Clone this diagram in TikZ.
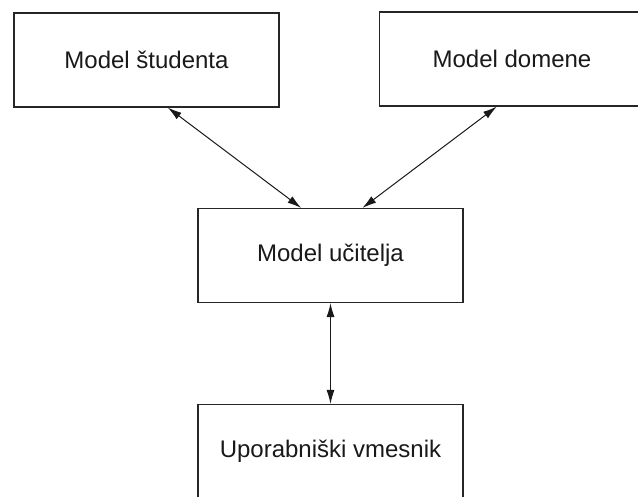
\documentclass[tikz,border=0pt]{standalone}
\usepackage{fontspec}
\setmainfont{Liberation Sans}
\usetikzlibrary{arrows.meta,calc}
\begin{document}
\begin{tikzpicture}[x=1pt,y=-1pt,
  box/.style={draw=black!85,line width=1.1pt,fill=white,minimum width=265pt,minimum height=94pt,inner sep=0pt,
    font=\fontsize{24}{28}\selectfont,text=black!90},
  link/.style={{Latex[length=14pt,width=8pt]}-{Latex[length=14pt,width=8pt]},line width=1pt,draw=black!90}]
\useasboundingbox (0,0) rectangle (638,496);
\clip (0,0) rectangle (638,496);
\fill[white] (0,0) rectangle (638,496);
\node[box] (s) at (146.5,60) {Model študenta};
\node[box] (d) at (512,59) {Model domene};
\node[box] (u) at (330.5,255.5) {Model učitelja};
\node[box] (v) at (330.5,451.5) {Uporabniški vmesnik};
\coordinate (s1) at ($(s.south west)!0.58!(s.south east)$);
\coordinate (u1) at ($(u.north west)!0.39!(u.north east)$);
\coordinate (d1) at ($(d.south west)!0.443!(d.south east)$);
\coordinate (u2) at ($(u.north west)!0.62!(u.north east)$);
\draw[link] (s1) -- (u1);
\draw[link] (d1) -- (u2);
\draw[link] (u.south) -- (v.north);
\end{tikzpicture}
\end{document}
